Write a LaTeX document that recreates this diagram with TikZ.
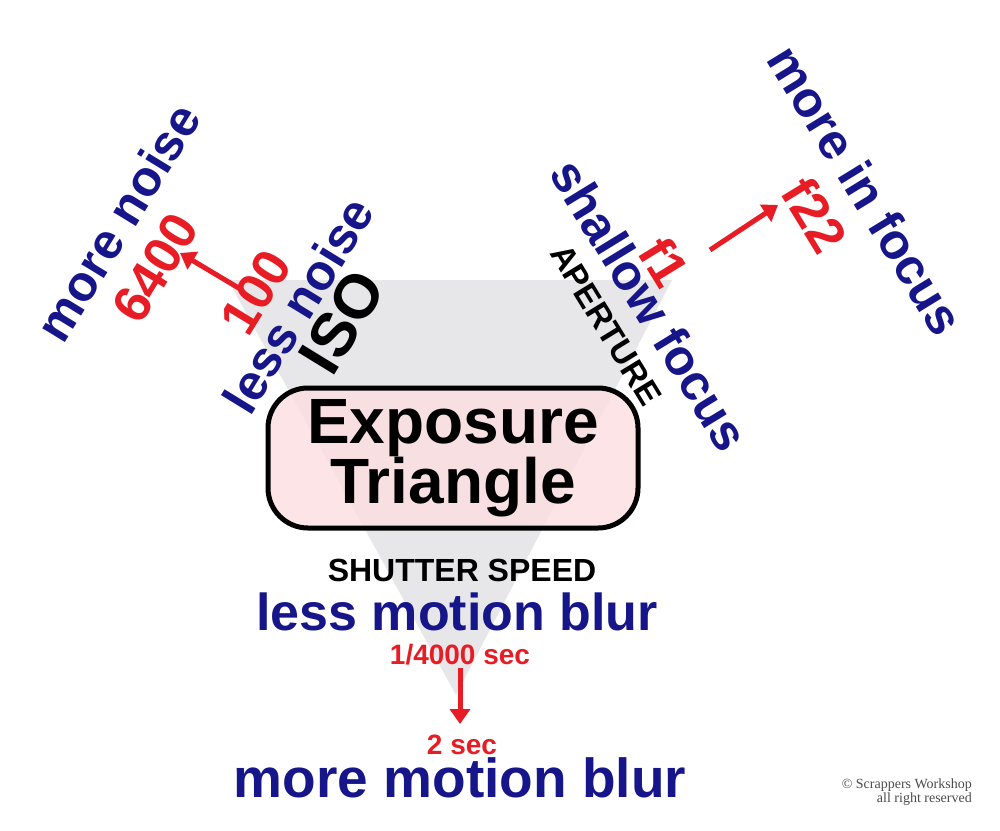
\documentclass[tikz,border=0pt]{standalone}
\usepackage{fontspec}
\setmainfont{Liberation Sans}
\newfontfamily\serifcr{Liberation Serif}
\usetikzlibrary{arrows.meta}
\definecolor{navy}{RGB}{22,22,138}
\definecolor{myred}{RGB}{232,28,36}
\definecolor{trigray}{RGB}{231,231,233}
\definecolor{boxpink}{RGB}{253,222,225}
\tikzset{
  t/.style={font=\bfseries, inner sep=0pt},
  bl/.style={t, text=navy},
  rd/.style={t, text=myred},
  bk/.style={t, text=black},
  fs/.style={font=\bfseries\fontsize{#1}{#1}\selectfont},
  redarrow/.style={draw=myred, line width=5pt, -{Triangle[length=15pt,width=20pt]}},
}
\begin{document}
\begin{tikzpicture}[x=1pt,y=-1pt]
\useasboundingbox (0,0) rectangle (1000,830);
\fill[white] (0,0) rectangle (1000,830);
\fill[trigray] (228,280) -- (672,280) -- (456,695) -- cycle;
\node[draw=black, line width=5pt, rounded corners=40pt, fill=boxpink, fill opacity=0.8, minimum width=370pt, minimum height=140pt] (box) at (453,458) {};
\node[bk, fs=64, align=center] (title) at (453,458) {Exposure\\[-4pt]Triangle};
% ISO side
\node[bl, fs=50, rotate=58.5] (moren) at (118,222) {more noise};
\node[rd, fs=52, rotate=58.5] (n6400) at (155,268) {6400};
\node[rd, fs=52, rotate=58.5] (n100) at (256,292) {100};
\node[bl, fs=50, rotate=58.5] (lessn) at (298,305) {less noise};
\node[bk, fs=62, rotate=58.5] (iso) at (342,322) {ISO};
\draw[redarrow] (242,290) -- (180,253);
% aperture side
\node[bl, fs=50, rotate=-58.5] (shallow) at (650,305) {shallow focus};
\node[rd, fs=52, rotate=-58.5] (f1) at (665,262) {f1};
\node[bk, fs=33, rotate=-58.5] (aper) at (606,325) {APERTURE};
\node[bl, fs=50, rotate=-58.5] (morein) at (866,190) {more in focus};
\node[rd, fs=52, rotate=-58.5] (f22) at (815,215) {f22};
\draw[redarrow] (710,250) -- (778,205);
% shutter
\node[bk, fs=32] (shutter) at (462,570) {SHUTTER SPEED};
\node[bl, fs=52] (lessm) at (457,612) {less motion blur};
\node[rd, fs=28] (s4000) at (460,655) {1/4000 sec};
\node[rd, fs=28] (s2) at (462,745) {2 sec};
\node[bl, fs=55] (morem) at (460,778) {more motion blur};
\coordinate (a1) at (460,668);
\coordinate (a2) at (460,724);
\draw[redarrow] (a1) -- (a2);
% copyright
\node[font=\serifcr\fontsize{14}{14}\selectfont, text=black!70, align=right, anchor=north east, inner sep=0pt] (copy) at (972,779) {© Scrappers Workshop\\all right reserved};
\end{tikzpicture}
\end{document}
